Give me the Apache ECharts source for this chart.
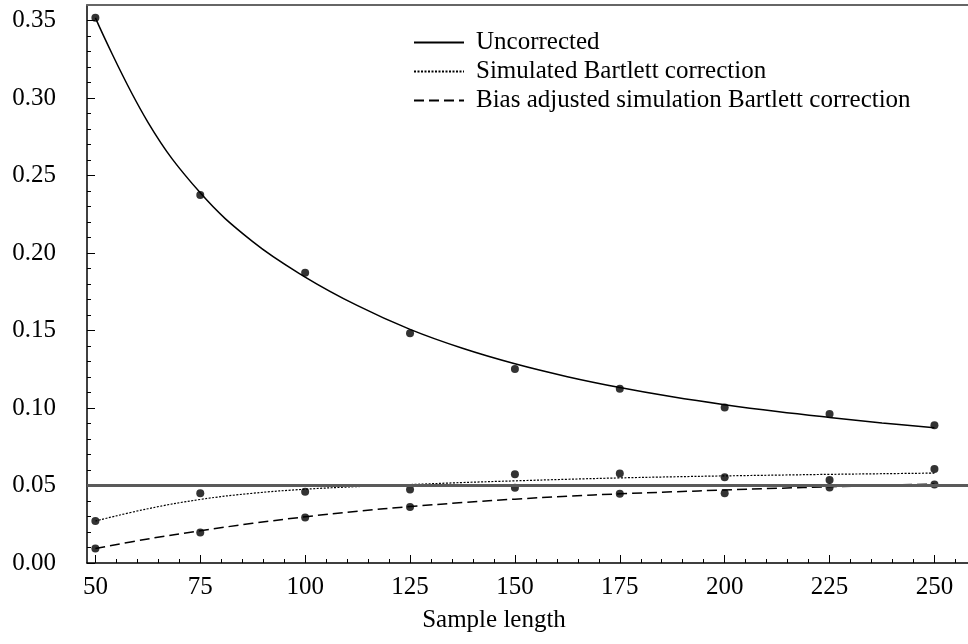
<!DOCTYPE html>
<html>
<head>
<meta charset="utf-8">
<script src="https://cdn.jsdelivr.net/npm/echarts@6/dist/echarts.min.js"></script>
<style>
html,body{margin:0;padding:0;background:#fff;}
#chart{width:968px;height:644px;}
</style>
</head>
<body>
<div id="chart"></div>
<script>
// ---- data ----
const sampleLengths = [50, 75, 100, 125, 150, 175, 200, 225, 250];
const uncorrectedPts = [0.3517, 0.2374, 0.1873, 0.1482, 0.1251, 0.1124, 0.1004, 0.0962, 0.0888];
const simulatedPts   = [0.0271, 0.0450, 0.0459, 0.0474, 0.0573, 0.0578, 0.0554, 0.0536, 0.0607];
const biasAdjPts     = [0.0093, 0.0196, 0.0293, 0.0362, 0.0485, 0.0446, 0.0450, 0.0487, 0.0506];

// fitted curves
const curveX         = [50, 62.5, 75, 87.5, 100, 112.5, 125, 137.5, 150, 162.5, 175, 187.5, 200, 212.5, 225, 237.5, 250];
const uncorrectedFit = [0.3517, 0.2845, 0.2388, 0.2073, 0.1845, 0.1660, 0.1507, 0.1385, 0.1285, 0.1202, 0.1132, 0.1072, 0.1021, 0.0977, 0.0939, 0.0904, 0.0872];
const simulatedFit   = [0.0271, 0.0350, 0.0410, 0.0450, 0.0476, 0.0493, 0.0506, 0.0519, 0.0530, 0.0540, 0.0549, 0.0556, 0.0562, 0.0567, 0.0572, 0.0576, 0.0580];
const biasAdjFit     = [0.0093, 0.0155, 0.0208, 0.0256, 0.0298, 0.0334, 0.0364, 0.0390, 0.0412, 0.0431, 0.0446, 0.0459, 0.0471, 0.0482, 0.0492, 0.0501, 0.0510];

const nominalLevel = 0.05;

const seriesNames = ['Uncorrected', 'Simulated Bartlett correction', 'Bias adjusted simulation Bartlett correction'];
const xTickLabels = [50, 75, 100, 125, 150, 175, 200, 225, 250];
const yTickLabels = [0.00, 0.05, 0.10, 0.15, 0.20, 0.25, 0.30, 0.35];
const xAxisTitle = 'Sample length';

// ---- build ----
const xMin = 48, xMax = 258, yMin = 0, yMax = 0.36;
const xMinor = [];
for (let v = 55; v < xMax; v += 5) if (v % 25 !== 0) xMinor.push(v);
const yMinor = [];
for (let i = 1; i < 36; i++) if (i % 5 !== 0) yMinor.push(i / 100);

const pairs = (xs, ys) => xs.map((x, i) => [x, ys[i]]);
const FONT = 'Liberation Serif';

const chart = echarts.init(document.getElementById('chart'), null, {renderer: 'canvas'});
chart.setOption({
  animation: false,
  backgroundColor: '#fff',
  textStyle: {fontFamily: FONT, color: '#000'},
  grid: {left: 87, right: 0, top: 5, bottom: 81, containLabel: false},
  legend: {
    orient: 'vertical',
    left: 408, top: 25,
    itemWidth: 50, itemHeight: 14, itemGap: 4,
    data: seriesNames,
    itemStyle: {color: 'rgba(0,0,0,0)', borderWidth: 0, opacity: 0},
    textStyle: {fontFamily: FONT, fontSize: 25, color: '#000', padding: [0, 0, 0, 7]},
    selectedMode: false
  },
  xAxis: [
    {
      type: 'value', min: xMin, max: xMax, position: 'bottom',
      axisLine: {show: true, onZero: false, lineStyle: {color: '#000', width: 1.5}},
      axisTick: {show: true, inside: true, length: 8, customValues: xTickLabels, lineStyle: {color: '#000', width: 1}},
      axisLabel: {show: true, customValues: xTickLabels, margin: 12, fontSize: 25, fontFamily: FONT, color: '#000'},
      splitLine: {show: false}
    },
    {
      type: 'value', min: xMin, max: xMax, position: 'bottom',
      axisLine: {show: false},
      axisTick: {show: true, inside: true, length: 4, customValues: xMinor, lineStyle: {color: '#000', width: 1}},
      axisLabel: {show: false},
      splitLine: {show: false}
    },
    {
      type: 'value', min: xMin, max: xMax, position: 'top',
      axisLine: {show: true, onZero: false, lineStyle: {color: '#666', width: 2}},
      axisTick: {show: false}, axisLabel: {show: false}, splitLine: {show: false}
    }
  ],
  yAxis: [
    {
      type: 'value', min: yMin, max: yMax, position: 'left',
      axisLine: {show: true, onZero: false, lineStyle: {color: '#000', width: 1.5}},
      axisTick: {show: true, inside: true, length: 8, customValues: yTickLabels, lineStyle: {color: '#000', width: 1}},
      axisLabel: {show: true, customValues: yTickLabels, margin: 31, fontSize: 25, fontFamily: FONT, color: '#000',
                  formatter: v => v.toFixed(2)},
      splitLine: {show: false}
    },
    {
      type: 'value', min: yMin, max: yMax, position: 'left',
      axisLine: {show: false},
      axisTick: {show: true, inside: true, length: 4, customValues: yMinor, lineStyle: {color: '#000', width: 1}},
      axisLabel: {show: false},
      splitLine: {show: false}
    }
  ],
  graphic: [{
    type: 'text', x: 494, y: 620,
    style: {text: xAxisTitle, font: '25px "Liberation Serif"', fill: '#000', align: 'center', verticalAlign: 'middle'}
  }],
  series: [
    {
      name: seriesNames[0], type: 'line', smooth: 0.4, symbol: 'none',
      data: pairs(curveX, uncorrectedFit),
      lineStyle: {color: '#000', width: 1.5, type: 'solid'}, itemStyle: {color: '#000'},
      markLine: {
        silent: true, symbol: 'none', label: {show: false},
        lineStyle: {color: '#5a5a5a', width: 3, type: 'solid'},
        data: [{yAxis: nominalLevel}]
      },
      z: 3
    },
    {
      name: seriesNames[1], type: 'line', smooth: 0.4, symbol: 'none',
      data: pairs(curveX, simulatedFit),
      lineStyle: {color: '#000', width: 1.2, type: [2, 1.5]}, itemStyle: {color: '#000'}, z: 3
    },
    {
      name: seriesNames[2], type: 'line', smooth: 0.4, symbol: 'none',
      data: pairs(curveX, biasAdjFit),
      lineStyle: {color: '#000', width: 1.5, type: [10, 5]}, itemStyle: {color: '#000'}, z: 3
    },
    {type: 'scatter', symbol: 'circle', symbolSize: 8, itemStyle: {color: '#000'}, data: pairs(sampleLengths, uncorrectedPts), z: 4},
    {type: 'scatter', symbol: 'circle', symbolSize: 8, itemStyle: {color: '#000'}, data: pairs(sampleLengths, simulatedPts), z: 4},
    {type: 'scatter', symbol: 'circle', symbolSize: 8, itemStyle: {color: '#000'}, data: pairs(sampleLengths, biasAdjPts), z: 4}
  ]
});
</script>
</body>
</html>
